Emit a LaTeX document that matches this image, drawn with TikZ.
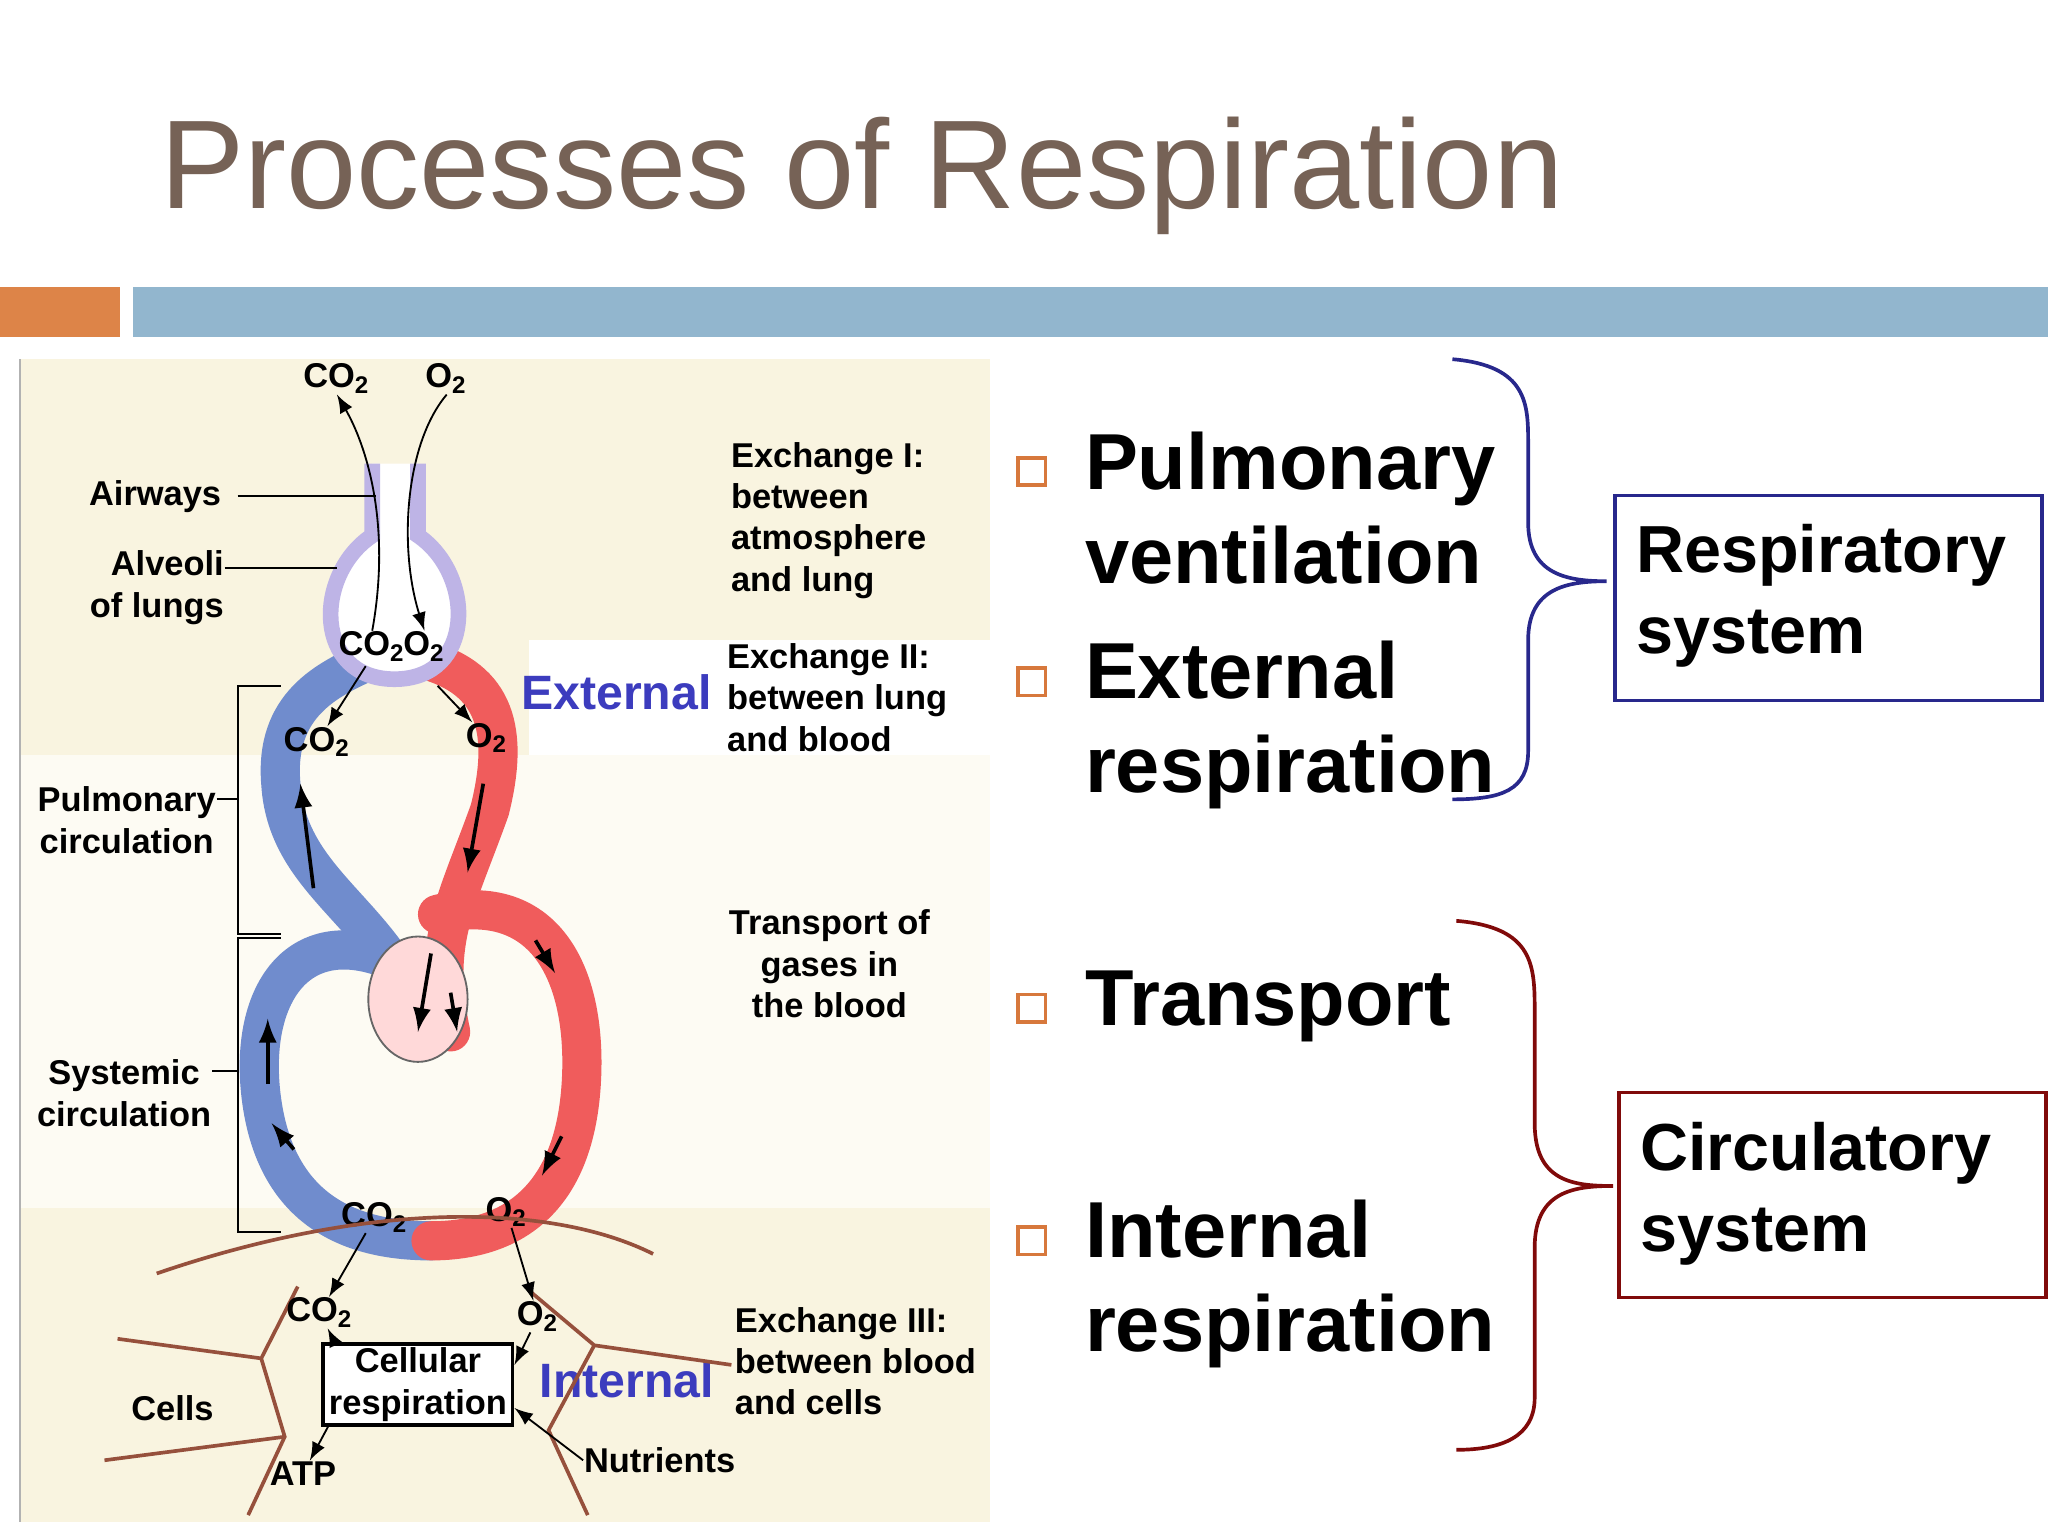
\documentclass[tikz,border=0pt]{standalone}
\usepackage{fontspec}
\setmainfont{Liberation Sans}
\usetikzlibrary{arrows,scopes}
\definecolor{titleBrown}{RGB}{118,98,86}
\definecolor{barOrange}{RGB}{221,132,72}
\definecolor{barBlue}{RGB}{146,182,206}
\definecolor{panelBeige}{RGB}{249,244,224}
\definecolor{bulletOrange}{RGB}{215,120,60}
\definecolor{braceNavy}{RGB}{40,40,140}
\definecolor{braceRed}{RGB}{128,10,10}
\definecolor{veinBlue}{RGB}{112,140,205}
\definecolor{arteryRed}{RGB}{240,92,92}
\definecolor{cellBrown}{RGB}{150,80,60}
\definecolor{extBlue}{RGB}{60,60,190}
\definecolor{lungLav}{RGB}{190,180,230}
\newcommand{\cotwo}{CO\textsubscript{2}}
\newcommand{\otwo}{O\textsubscript{2}}
\tikzset{
  small/.style={font=\bfseries\fontsize{7.5}{9}\selectfont, align=left, inner sep=0pt},
  big/.style={font=\bfseries\fontsize{17.3}{21}\selectfont, anchor=base west, inner sep=0pt},
  boxtext/.style={big, font=\bfseries\fontsize{14.5}{17}\selectfont},
  bullet/.style={draw=bulletOrange, thick, minimum size=2.1mm, inner sep=0pt},
}
\begin{document}
\begin{tikzpicture}[x=0.1mm,y=-0.1mm]
  \useasboundingbox (0,0) rectangle (1568,1176);
  % title and bars
  \node (title) [anchor=base west, inner sep=0pt, text=titleBrown, font=\fontsize{27.5}{32}\selectfont] at (122,160) {Processes of Respiration};
  \fill[barOrange] (0,220) rectangle (92,258);
  \fill[barBlue] (102,220) rectangle (1568,258);
  % panel
  \fill[panelBeige] (15,275) rectangle (758,1165);
  \fill[white!60!panelBeige] (15,578) rectangle (758,925);
  \fill[white] (405,490) rectangle (758,578);
  \draw[gray!60] (15,275) -- (15,1165);
  % vessels
  {[line width=3mm, line cap=round]
    \draw[veinBlue] (325,790) .. controls (300,700) and (220,680) .. (215,600) .. controls (210,540) and (250,520) .. (285,505);
    \draw[arteryRed] (325,505) .. controls (380,520) and (390,560) .. (375,620) .. controls (350,690) and (330,720) .. (345,790);
    \draw[veinBlue] (310,740) .. controls (230,700) and (190,760) .. (200,840) .. controls (210,920) and (260,950) .. (330,950);
    \draw[arteryRed] (335,700) .. controls (420,680) and (450,750) .. (445,830) .. controls (440,910) and (400,950) .. (330,950);
  }
  \fill[pink!60!white, draw=black!60] (320,765) ellipse (38 and 48);
  % lung
  \draw[draw=lungLav, fill=white, line width=1.2mm] (285,355) -- (285,410) .. controls (240,440) and (240,520) .. (302,520) .. controls (364,520) and (364,440) .. (320,410) -- (320,355);
  % top gases
  \node (co2top) [small] at (258,290) {\cotwo};
  \node (o2top) [small] at (342,290) {\otwo};
  \node (co2alv) [small] at (285,495) {\cotwo};
  \node (o2alv) [small] at (325,495) {\otwo};
  \draw[-latex] (co2alv.north) .. controls (300,400) and (280,340) .. (co2top.south);
  \draw[-latex] (o2top.south) .. controls (310,340) and (305,420) .. (o2alv.north);
  % left labels
  \node (airways) [small, anchor=east] at (170,380) {Airways};
  \node (alveoli) [small, align=right, anchor=east] at (172,450) {Alveoli\\of lungs};
  \draw (airways.east) ++(12,0) -- (288,380);
  \draw (172,435) -- (258,435);
  \node (pulcirc) [small, align=center] at (97,628) {Pulmonary\\circulation};
  \node (syscirc) [small, align=center] at (95,837) {Systemic\\circulation};
  \draw (215,525) -- (182,525) -- (182,715) -- (215,715);
  \draw (215,718) -- (182,718) -- (182,943) -- (215,943);
  \draw (pulcirc.east |- 612,612) -- (182,612);
  \draw (syscirc.east |- 820,820) -- (182,820);
  % vessel gas labels
  \node (co2pul) [small] at (243,568) {\cotwo};
  \node (o2pul) [small] at (373,565) {\otwo};
  \node (co2sys) [small] at (287,932) {\cotwo};
  \node (o2sys) [small] at (388,928) {\otwo};
  \draw[-latex] (280,510) -- (co2pul);
  \draw[-latex] (335,525) -- (o2pul);
  {[-latex, thick]
    \draw (240,680) -- (230,600);
    \draw (370,600) -- (358,668);
    \draw (410,720) -- (425,745);
    \draw (430,870) -- (415,900);
    \draw (225,880) -- (208,860);
    \draw (205,830) -- (205,780);
    \draw (330,730) -- (320,790);
    \draw (345,760) -- (350,790);
  }
  % middle text
  \node (external) [small, text=extBlue, font=\bfseries\fontsize{10.5}{12}\selectfont] at (472,530) {External};
  \node (internal) [small, text=extBlue, font=\bfseries\fontsize{10.5}{12}\selectfont] at (480,1057) {Internal};
  \node (exI) [small, anchor=north west] at (559,338) {Exchange I:\\between\\atmosphere\\and lung};
  \node (exII) [small, anchor=north west] at (556,492) {Exchange II:\\between lung\\and blood};
  \node (trans) [small, align=center] at (635,738) {Transport of\\gases in\\the blood};
  \node (exIII) [small, anchor=north west] at (562,1000) {Exchange III:\\between blood\\and cells};
  % cells
  {[cellBrown, thick]
    \draw (120,975) .. controls (280,920) and (420,920) .. (500,960);
    \draw (90,1025) -- (200,1040) -- (228,985);
    \draw (200,1040) -- (218,1100) -- (190,1160);
    \draw (218,1100) -- (80,1118);
    \draw (405,988) -- (455,1030) -- (560,1045);
    \draw (455,1030) -- (420,1095) -- (450,1160);
  }
  \node (cells) [small] at (132,1078) {Cells};
  \node (cellresp) [small, draw, thick, fill=white, align=center, minimum width=14.5mm, minimum height=6.2mm] at (320,1060) {Cellular\\respiration};
  \node (co2cell) [small] at (245,1005) {\cotwo};
  \node (o2cell) [small] at (412,1008) {\otwo};
  \node (atp) [small] at (232,1128) {ATP};
  \node (nutr) [small] at (505,1118) {Nutrients};
  {[-latex]
    \draw (co2sys) -- (co2cell);
    \draw (o2sys) -- (o2cell);
    \draw (cellresp.north west) ++(10,0) -- (co2cell);
    \draw (o2cell) -- (cellresp.east |- 320,1045);
    \draw (nutr.west) -- (cellresp.east |- 320,1078);
    \draw (cellresp.south west) ++(5,0) -- (atp);
  }
  % right bullets
  \node (b1) [bullet] at (790,361) {};
  \node (b2) [bullet] at (790,522) {};
  \node (b3) [bullet] at (790,772) {};
  \node (b4) [bullet] at (790,950) {};
  \node (pulm) [big] at (830,375) {Pulmonary};
  \node (vent) [big] at (830,447) {ventilation};
  \node (ext) [big] at (830,535) {External};
  \node (extr) [big] at (830,607) {respiration};
  \node (tran) [big] at (830,785) {Transport};
  \node (int) [big] at (830,963) {Internal};
  \node (intr) [big] at (830,1035) {respiration};
  % braces
  \draw[braceNavy, thick] (1112,275) .. controls (1170,280) and (1170,310) .. (1170,340) -- (1170,400) .. controls (1170,440) and (1200,445) .. (1230,445)
    .. controls (1200,445) and (1170,450) .. (1170,490) -- (1170,575) .. controls (1170,605) and (1150,612) .. (1112,612);
  \draw[braceRed, thick] (1115,705) .. controls (1175,710) and (1175,740) .. (1175,775) -- (1175,860) .. controls (1175,905) and (1205,908) .. (1235,908)
    .. controls (1205,908) and (1175,912) .. (1175,955) -- (1175,1070) .. controls (1175,1100) and (1150,1110) .. (1115,1110);
  \node (respsys) [draw=braceNavy, thick, minimum width=32.7mm, minimum height=15.7mm, anchor=north west] at (1235,378) {};
  \node (respsyst) [boxtext] at (1252,438) {Respiratory};
  \node (respsysb) [boxtext] at (1252,500) {system};
  \node (circsys) [draw=braceRed, thick, minimum width=32.7mm, minimum height=15.7mm, anchor=north west] at (1238,835) {};
  \node (circsyst) [boxtext] at (1255,896) {Circulatory};
  \node (circsysb) [boxtext] at (1255,958) {system};
\end{tikzpicture}
\end{document}
